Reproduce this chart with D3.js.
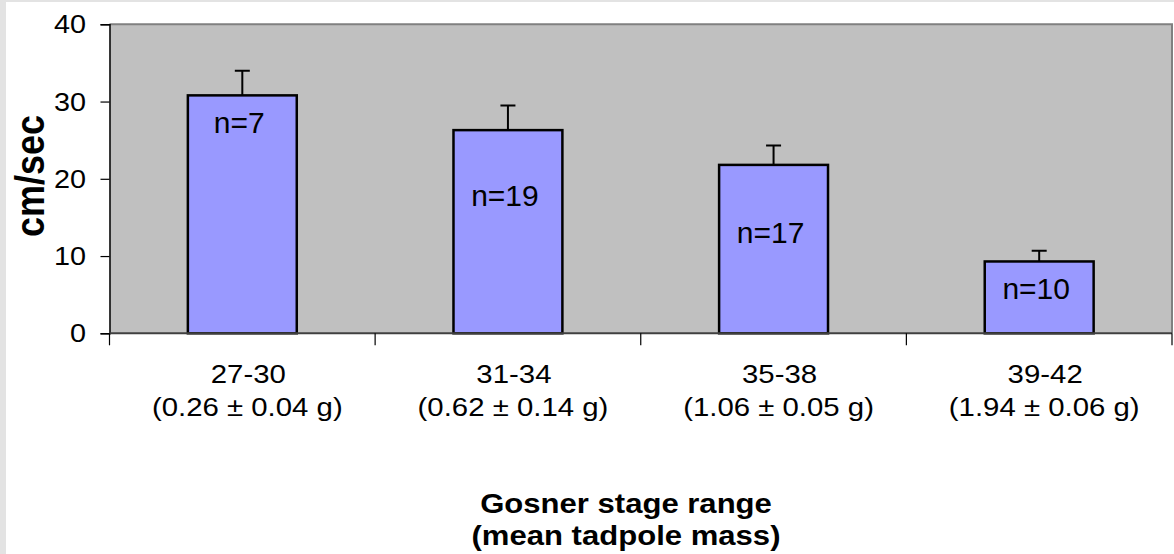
<!DOCTYPE html>
<html>
<head>
<meta charset="utf-8">
<script src="https://cdn.jsdelivr.net/npm/d3@7"></script>
<style>
  html, body { margin: 0; padding: 0; background: #e3e3e3; }
  svg { display: block; }
  text { font-family: "Liberation Sans", Arial, sans-serif; fill: #000; }
</style>
</head>
<body>
<svg id="chart" width="1174" height="554"></svg>
<script>
// Swimming speed by developmental stage
const stages = ["27-30", "31-34", "35-38", "39-42"];
const masses = ["(0.26 ± 0.04 g)", "(0.62 ± 0.14 g)", "(1.06 ± 0.05 g)", "(1.94 ± 0.06 g)"];
const speeds = [30.8, 26.3, 21.8, 9.3];
const speedErr = [3.2, 3.2, 2.5, 1.4];
const sampleSizes = [7, 19, 17, 10];
const yTicks = [0, 10, 20, 30, 40];

// layout
const W = 1174, H = 554;
const plot = { left: 109.5, right: 1172, top: 24.3, bottom: 333.3 };
const labelDrop = [38, 76, 78, 38];   // baseline of n= labels below the bar top
const WIDE = 1.13;                     // horizontal stretch of the axis lettering

const svg = d3.select("#chart");

// white chart canvas inside the thin grey frame
svg.append("rect").attr("x", 6).attr("y", 2).attr("width", W - 6).attr("height", H - 2).attr("fill", "#ffffff");

const x = d3.scaleBand().domain(stages).range([plot.left, plot.right]).paddingInner(0).paddingOuter(0);
const y = d3.scaleLinear().domain([0, 40]).range([plot.bottom, plot.top]);
const barW = x.bandwidth() * 0.41;

// stretched text helper
function wideText(parent, tx, ty, str, size, anchor, bold, extra) {
  const t = parent.append("text")
    .attr("transform", `translate(${tx},${ty}) scale(${WIDE},1)` + (extra || ""))
    .attr("text-anchor", anchor)
    .style("font-size", size + "px")
    .style("font-weight", bold ? "bold" : "normal")
    .text(str);
  return t;
}

// plot area
svg.append("rect")
  .attr("x", plot.left).attr("y", plot.top)
  .attr("width", plot.right - plot.left).attr("height", plot.bottom - plot.top)
  .attr("fill", "#c0c0c0");
svg.append("path")
  .attr("d", `M${plot.left},${plot.top}H${plot.right}V${plot.bottom}`)
  .attr("fill", "none").attr("stroke", "#808080").attr("stroke-width", 2);

// bars
const g = svg.append("g");
g.selectAll("rect.bar").data(stages).join("rect")
  .attr("class", "bar")
  .attr("x", d => x(d) + x.bandwidth() / 2 - barW / 2)
  .attr("y", (d, i) => y(speeds[i]))
  .attr("width", barW)
  .attr("height", (d, i) => y(0) - y(speeds[i]))
  .attr("fill", "#9999ff").attr("stroke", "#000").attr("stroke-width", 2.5);

// upper error bars
g.selectAll("path.err").data(stages).join("path")
  .attr("class", "err")
  .attr("d", (d, i) => {
    const cx = x(d) + x.bandwidth() / 2;
    const top = y(speeds[i] + speedErr[i]);
    return `M${cx},${y(speeds[i])}V${top}M${cx - 7.5},${top}H${cx + 7.5}`;
  })
  .attr("fill", "none").attr("stroke", "#000").attr("stroke-width", 2);

// sample size labels
g.selectAll("text.n").data(stages).join("text")
  .attr("class", "n")
  .attr("x", d => x(d) + x.bandwidth() / 2 - 3)
  .attr("y", (d, i) => y(speeds[i]) + labelDrop[i])
  .attr("text-anchor", "middle")
  .style("font-size", "30px")
  .text((d, i) => "n=" + sampleSizes[i]);

// y axis
const yAxis = svg.append("g")
  .attr("transform", `translate(${plot.left},0)`)
  .call(d3.axisLeft(y).tickValues(yTicks).tickSize(9).tickFormat(""));
yAxis.select(".domain").attr("stroke", "#000").attr("stroke-width", 1.5);
yAxis.selectAll(".tick line").attr("stroke", "#000").attr("stroke-width", 1.2);
const yl = svg.append("g");
yTicks.forEach(v => {
  wideText(yl, 86, y(v) + 9, String(v), 25.5, "end", false);
});

// x axis with ticks on category boundaries
const xAxisG = svg.append("g").attr("transform", `translate(0,${plot.bottom})`);
xAxisG.append("path").attr("d", `M${plot.left},0H${plot.right}`)
  .attr("stroke", "#404040").attr("stroke-width", 2);
const bounds = stages.map(d => x(d)).concat([x(stages[stages.length - 1]) + x.bandwidth()]);
xAxisG.selectAll("line.tk").data(bounds).join("line")
  .attr("class", "tk")
  .attr("x1", d => d).attr("x2", d => d).attr("y1", 0).attr("y2", 12)
  .attr("stroke", "#000").attr("stroke-width", 1.2);

const xl = svg.append("g");
stages.forEach((d, i) => {
  const cx = x(d) + x.bandwidth() / 2;
  wideText(xl, cx + 6, 383, d, 26, "middle", false);
  wideText(xl, cx + 5, 416, masses[i], 26, "middle", false);
});

// axis titles
wideText(svg, 626, 513, "Gosner stage range", 27.5, "middle", true);
wideText(svg, 626, 545, "(mean tadpole mass)", 27.5, "middle", true);

svg.append("text")
  .attr("transform", `translate(44,176) scale(${WIDE},1) rotate(-90)`)
  .attr("text-anchor", "middle")
  .style("font-size", "36px").style("font-weight", "bold")
  .text("cm/sec");
</script>
</body>
</html>
